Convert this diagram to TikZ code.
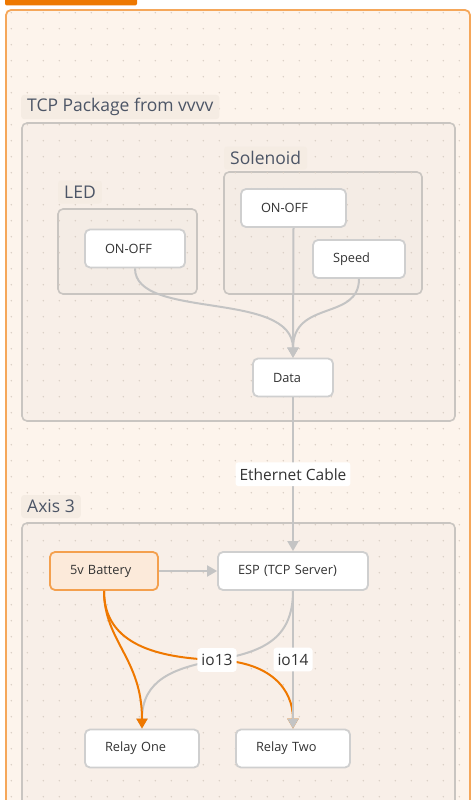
\documentclass[tikz,border=0pt]{standalone}
\usepackage{fontspec}
\setmainfont{Open Sans}
\usetikzlibrary{arrows.meta}

\definecolor{framefill}{HTML}{FDF4EC}
\definecolor{frameline}{HTML}{F5A75A}
\definecolor{tabfill}{HTML}{EE7800}
\definecolor{groupfill}{HTML}{F8EFE8}
\definecolor{innerfill}{HTML}{F4ECE5}
\definecolor{groupline}{HTML}{C9C5C1}
\definecolor{titlefill}{HTML}{F5ECE3}
\definecolor{titletext}{HTML}{4C5566}
\definecolor{cardline}{HTML}{CFCFCF}
\definecolor{nodetext}{HTML}{333333}
\definecolor{wiregray}{HTML}{C4C4C4}
\definecolor{powerorange}{HTML}{EF7800}
\definecolor{battfill}{HTML}{FCEADA}
\definecolor{battline}{HTML}{F4A04E}
\definecolor{dotgray}{HTML}{D9CEC4}

\tikzset{
  card/.style={draw=cardline, line width=1.8pt, rounded corners=5pt, fill=white,
    minimum height=38pt, inner xsep=20pt, align=left, text=nodetext,
    font=\fontsize{12.8}{14}\selectfont},
  battcard/.style={card, draw=battline, fill=battfill},
  group/.style={draw=groupline, line width=1.6pt, rounded corners=5pt, fill=groupfill, inner sep=0pt},
  innergroup/.style={group, fill=innerfill},
  grouptitle/.style={fill=titlefill, rounded corners=3pt, inner xsep=6pt, minimum height=23pt,
    anchor=west, text=titletext, font=\fontsize{17.5}{19}\selectfont},
  wire/.style={draw=wiregray, line width=2pt, -{Triangle[length=10pt,width=11pt]}},
  power/.style={draw=powerorange, line width=2pt, -{Triangle[length=10pt,width=11pt]}},
  tag/.style={fill=white, rounded corners=3pt, inner xsep=4pt, inner ysep=6pt, text=nodetext,
    font=\fontsize{15.5}{17}\selectfont}
}

\begin{document}
\begin{tikzpicture}[x=1pt,y=-1pt]
\clip (0,0) rectangle (476,800);

\fill[tabfill, rounded corners=2pt] (5,-6) rectangle (137,5.5);
\draw[frameline, fill=framefill, line width=1.8pt, rounded corners=5pt] (6,10) rectangle (470,840);

\node[group, minimum width=433, minimum height=298] (tcpgroup) at (238.5,272) {};
\node[innergroup, minimum width=139, minimum height=85] (ledgroup) at (127.5,251.5) {};
\node[innergroup, minimum width=198, minimum height=122] (solgroup) at (323,233) {};
\node[group, minimum width=433, minimum height=297] (axisgroup) at (238.5,671.5) {};

\begin{scope}
\clip (7,11) rectangle (469,800);
\foreach \i in {0,...,29}
  \foreach \j in {0,...,49}
    \fill[dotgray] ({11.3+16*\i},{12.7+16*\j}) circle (0.8pt);
\end{scope}

\node[grouptitle] (tcptitle) at (21,107) {TCP Package from vvvv};
\node[grouptitle] (soltitle) at (224,158) {Solenoid};
\node[grouptitle] (ledtitle) at (58,192) {LED};
\node[grouptitle] (axistitle) at (21,506.5) {Axis 3};

\node[card, text width=60] (ledonoff) at (135,248.5) {ON-OFF};
\node[card, text width=65] (solonoff) at (293.5,208) {ON-OFF};
\node[card, text width=52] (speed) at (359,259) {Speed};
\node[card, text width=40] (data) at (293,377.5) {Data};

\node[battcard, text width=68] (battery) at (104,571) {5v Battery};
\node[card, text width=110] (esp) at (293,571) {ESP (TCP Server)};
\node[card, text width=74] (relayone) at (142,748.5) {Relay One};
\node[card, text width=74] (relaytwo) at (293,748.5) {Relay Two};

\coordinate (iothirteen) at (217,660);

\draw[wire] (ledonoff.south) .. controls +(0,52) and +(0,-68) .. (data.north);
\draw[wire] (solonoff.south) -- (data.north);
\draw[wire] (speed.south) .. controls +(0,42) and +(0,-58) .. (data.north);
\draw[wire] (data.south) -- node[tag] (ethernet) {Ethernet Cable} (esp.north);
\draw[wire] (battery.east) -- (esp.west);

\draw[power] (battery.south) .. controls +(0,55) and (160,658) .. (iothirteen)
  .. controls (270,662) and +(0,-40) .. (relaytwo.north);
\draw[wire] (esp.south) .. controls +(0,50) and (260,652) .. (iothirteen)
  .. controls (174,668) and +(0,-49) .. (relayone.north);
\draw[wire] (esp.south) -- (relaytwo.north);
\draw[power] (battery.south) .. controls +(0,50) and +(0,-70) .. (relayone.north);

\node[tag] (iothirteenlabel) at (iothirteen) {io13};
\node[tag] (iofourteen) at (293,659.5) {io14};
\end{tikzpicture}
\end{document}
